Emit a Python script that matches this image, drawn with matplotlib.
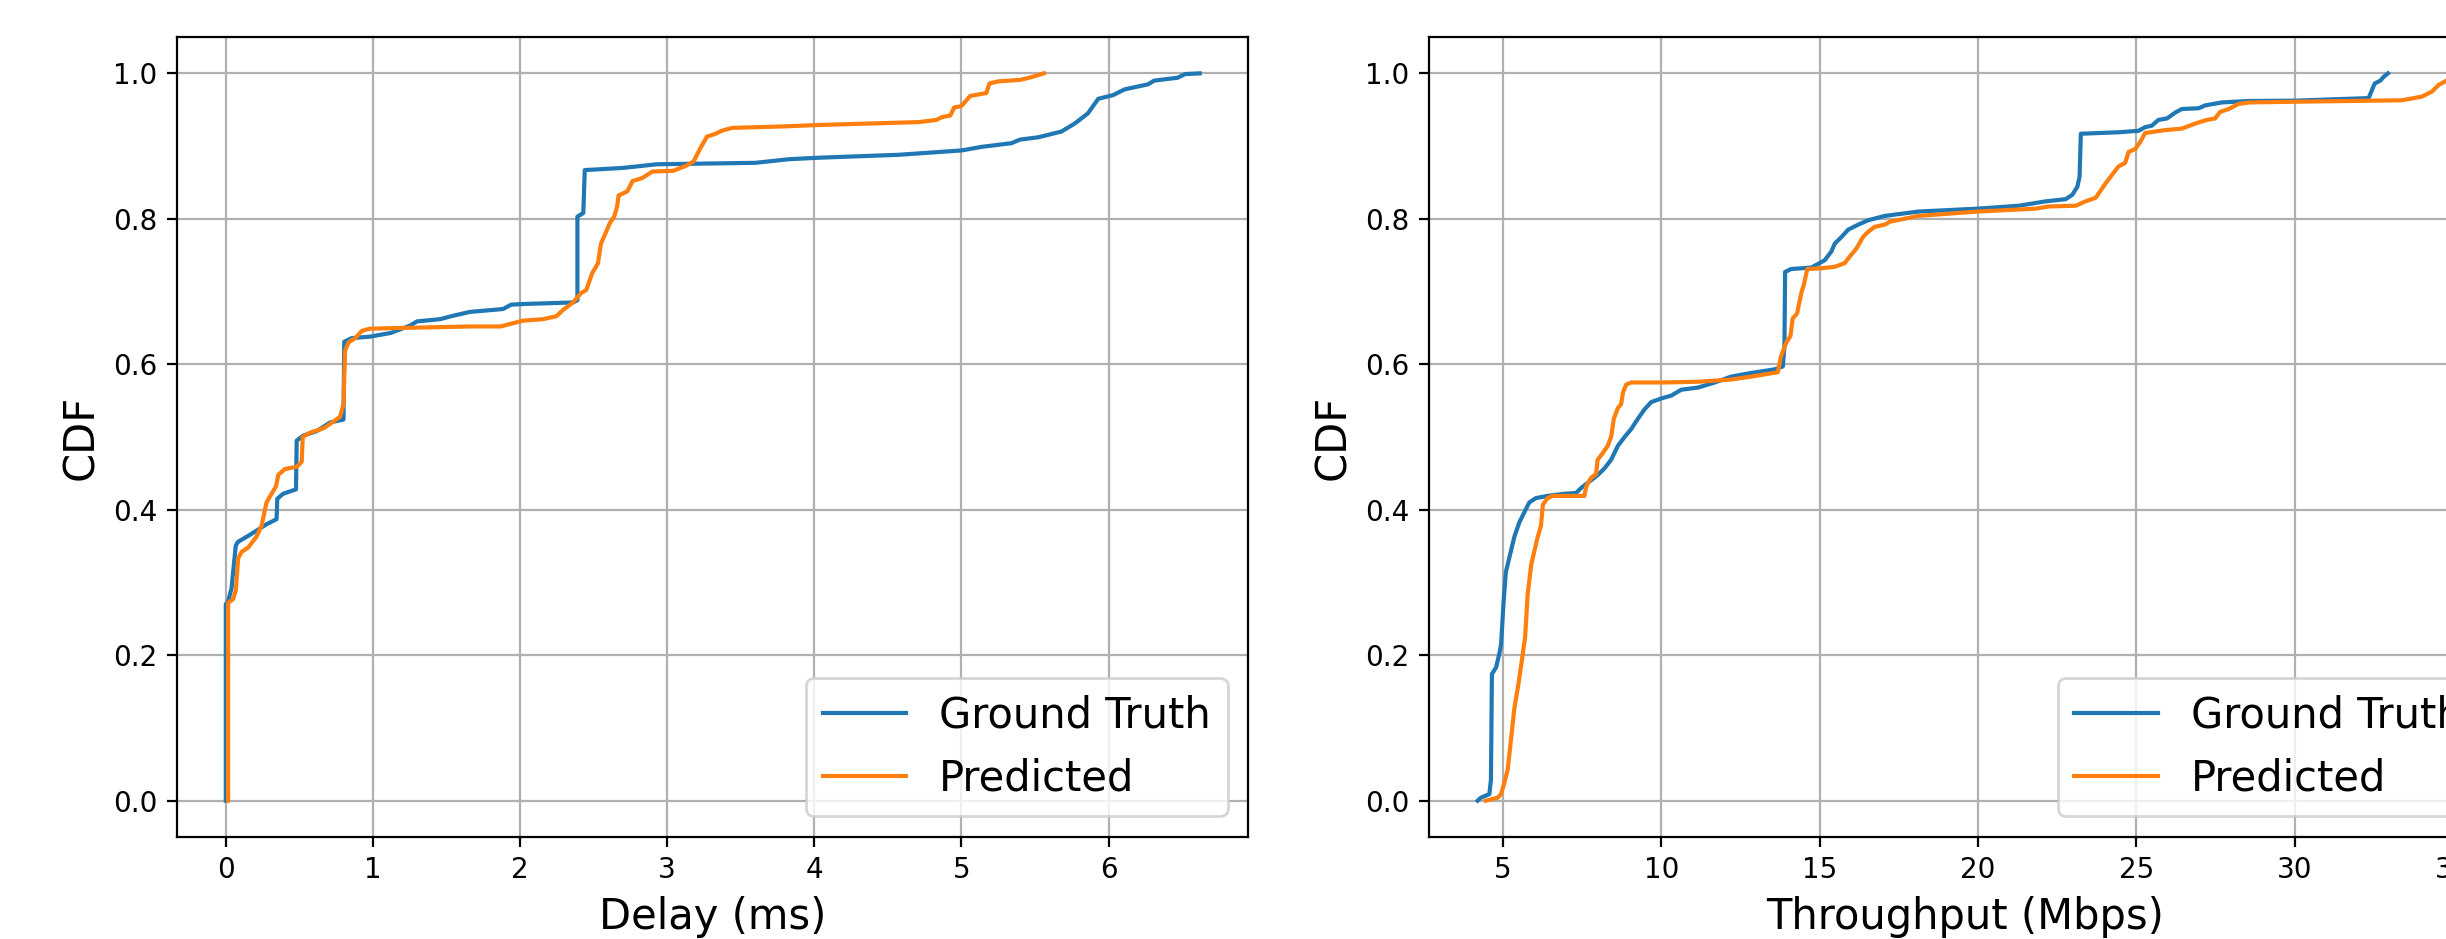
import numpy as np
import matplotlib.pyplot as plt

# Delay CDF (ms)
delay_gt_x = [0.0, 0.0, 0.016, 0.039, 0.068, 0.084, 0.16, 0.277, 0.345, 0.35, 0.39, 0.477, 0.482,
              0.527, 0.618, 0.709, 0.80, 0.805, 0.857, 0.98, 1.12, 1.25, 1.30, 1.456, 1.55, 1.66,
              1.885, 1.94, 2.04, 2.36, 2.39, 2.39, 2.43, 2.44, 2.70, 2.93, 3.6, 3.83, 4.03, 4.57,
              5.0, 5.14, 5.34, 5.40, 5.52, 5.68, 5.77, 5.86, 5.93, 6.03, 6.11, 6.27, 6.31, 6.47,
              6.52, 6.62]
delay_gt_y = [0.0, 0.27, 0.274, 0.292, 0.351, 0.356, 0.365, 0.380, 0.387, 0.415, 0.422, 0.428, 0.495,
              0.502, 0.508, 0.520, 0.524, 0.631, 0.636, 0.638, 0.643, 0.653, 0.659, 0.662, 0.667, 0.672,
              0.676, 0.682, 0.683, 0.685, 0.688, 0.803, 0.808, 0.867, 0.870, 0.875, 0.877, 0.882, 0.884, 0.888,
              0.894, 0.899, 0.904, 0.909, 0.912, 0.920, 0.931, 0.945, 0.965, 0.970, 0.978, 0.985, 0.990, 0.994,
              0.999, 1.0]

delay_pred_x = [0.016, 0.016, 0.05, 0.068, 0.084, 0.107, 0.152, 0.209, 0.243, 0.277, 0.311, 0.341, 0.357,
                0.402, 0.482, 0.516, 0.523, 0.573, 0.664, 0.709, 0.777, 0.80, 0.811, 0.834, 0.88, 0.925,
                0.98, 1.21, 1.66, 1.87, 1.906, 2.02, 2.156, 2.246, 2.30, 2.36, 2.415, 2.45, 2.49, 2.53,
                2.55, 2.57, 2.61, 2.64, 2.66, 2.67, 2.73, 2.765, 2.83, 2.90, 3.04, 3.13, 3.18, 3.22,
                3.27, 3.33, 3.37, 3.44, 3.78, 4.03, 4.71, 4.83, 4.87, 4.925, 4.95, 5.0, 5.06, 5.17,
                5.19, 5.25, 5.40, 5.48, 5.56]
delay_pred_y = [0.0, 0.272, 0.277, 0.289, 0.333, 0.342, 0.348, 0.363, 0.378, 0.410, 0.422, 0.432, 0.448,
                0.456, 0.459, 0.466, 0.500, 0.506, 0.512, 0.518, 0.528, 0.545, 0.619, 0.630, 0.636, 0.646,
                0.649, 0.650, 0.652, 0.652, 0.654, 0.660, 0.662, 0.666, 0.676, 0.685, 0.698, 0.702, 0.725, 0.739,
                0.766, 0.775, 0.794, 0.803, 0.817, 0.832, 0.838, 0.852, 0.856, 0.865, 0.866, 0.873, 0.879, 0.895,
                0.913, 0.917, 0.921, 0.925, 0.927, 0.929, 0.933, 0.936, 0.940, 0.942, 0.953, 0.955, 0.969, 0.973,
                0.986, 0.989, 0.991, 0.995, 1.0]

# Throughput CDF (Mbps)
tput_gt_x = [4.2, 4.30, 4.57, 4.62, 4.65, 4.78, 4.88, 4.94, 5.02, 5.09, 5.2, 5.36, 5.52, 5.68, 5.83,
             6.04, 6.41, 6.94, 7.31, 7.47, 7.68, 8.0, 8.21, 8.42, 8.63, 8.84, 9.05, 9.26, 9.47, 9.68,
             10.0, 10.32, 10.63, 11.16, 11.69, 12.2, 12.83, 13.57, 13.84, 13.89, 13.91, 14.1, 14.74,
             15.16, 15.37, 15.48, 15.69, 15.9, 16.22, 16.53, 17.06, 18.12, 20.0, 21.29, 22.14, 22.77,
             22.98, 23.14, 23.21, 23.25, 24.44, 25.07, 25.28, 25.49, 25.7, 25.97, 26.23, 26.44, 26.97,
             27.18, 27.7, 28.55, 30.02, 32.34, 32.53, 32.71, 32.81, 32.95]
tput_gt_y = [0.0, 0.004, 0.009, 0.029, 0.174, 0.183, 0.201, 0.215, 0.274, 0.314, 0.334, 0.363, 0.383, 0.397, 0.410,
             0.416, 0.419, 0.422, 0.423, 0.430, 0.437, 0.448, 0.457, 0.469, 0.488, 0.500, 0.511, 0.525, 0.538, 0.548,
             0.553, 0.557, 0.565, 0.568, 0.575, 0.583, 0.588, 0.593, 0.597, 0.627, 0.727, 0.731, 0.733,
             0.743, 0.755, 0.766, 0.775, 0.785, 0.792, 0.798, 0.804, 0.810, 0.814, 0.818, 0.824, 0.827,
             0.833, 0.844, 0.858, 0.917, 0.919, 0.921, 0.926, 0.928, 0.936, 0.938, 0.946, 0.951, 0.952,
             0.956, 0.960, 0.962, 0.9625, 0.966, 0.986, 0.990, 0.995, 1.0]

tput_pred_x = [4.46, 4.83, 4.94, 5.04, 5.15, 5.25, 5.36, 5.49, 5.59, 5.70, 5.78, 5.89, 5.99, 6.1, 6.2,
               6.26, 6.41, 6.57, 7.57, 7.63, 7.78, 7.94, 7.99, 8.12, 8.31, 8.42, 8.50, 8.63, 8.73, 8.79,
               8.89, 9.05, 10.1, 11.16, 12.2, 12.83, 13.68, 13.78, 13.94, 14.08, 14.15, 14.29, 14.42,
               14.5, 14.61, 15.05, 15.48, 15.79, 15.95, 16.16, 16.37, 16.53, 16.74, 17.06, 17.22, 18.12,
               20.0, 21.82, 22.24, 23.09, 23.4, 23.72, 24.02, 24.28, 24.44, 24.65, 24.76, 24.97, 25.13,
               25.28, 25.92, 26.44, 26.86, 27.23, 27.49, 27.65, 27.92, 28.23, 28.55, 30.02, 31.7, 33.39,
               34.02, 34.34, 34.55, 34.84, 34.96]
tput_pred_y = [0.0, 0.004, 0.009, 0.024, 0.043, 0.083, 0.127, 0.161, 0.191, 0.225, 0.284, 0.324, 0.343, 0.363, 0.378,
               0.407, 0.416, 0.419, 0.419, 0.432, 0.444, 0.449, 0.469, 0.476, 0.488, 0.501, 0.525, 0.540, 0.545, 0.561,
               0.572, 0.575, 0.575, 0.576, 0.579, 0.583, 0.589, 0.611, 0.629, 0.639, 0.663, 0.670, 0.698,
               0.709, 0.731, 0.732, 0.734, 0.739, 0.748, 0.759, 0.775, 0.782, 0.789, 0.792, 0.796, 0.804,
               0.810, 0.814, 0.817, 0.818, 0.824, 0.829, 0.848, 0.863, 0.872, 0.877, 0.892, 0.896, 0.906,
               0.918, 0.922, 0.924, 0.931, 0.936, 0.938, 0.947, 0.951, 0.958, 0.960, 0.961, 0.962, 0.963,
               0.968, 0.975, 0.984, 0.991, 1.0]

fig = plt.figure(figsize=(2446 / 200, 939 / 200), dpi=200)

# the right panel runs past the figure edge, like in the reference
ax1 = fig.add_axes([0.0724, 0.1086, 0.438, 0.852])
ax2 = fig.add_axes([0.5842, 0.1086, 0.438, 0.852])

ax1.plot(delay_gt_x, delay_gt_y, label='Ground Truth')
ax1.plot(delay_pred_x, delay_pred_y, label='Predicted')
ax1.set_xlabel('Delay (ms)', fontsize=15)
ax1.set_ylabel('CDF', fontsize=15)
ax1.grid(True)
ax1.legend(loc='lower right', fontsize=15)

ax2.plot(tput_gt_x, tput_gt_y, label='Ground Truth')
ax2.plot(tput_pred_x, tput_pred_y, label='Predicted')
ax2.set_xlabel('Throughput (Mbps)', fontsize=15)
ax2.set_ylabel('CDF', fontsize=15)
ax2.grid(True)
ax2.legend(loc='lower right', fontsize=15)

fig.savefig('out.png', dpi=200)
